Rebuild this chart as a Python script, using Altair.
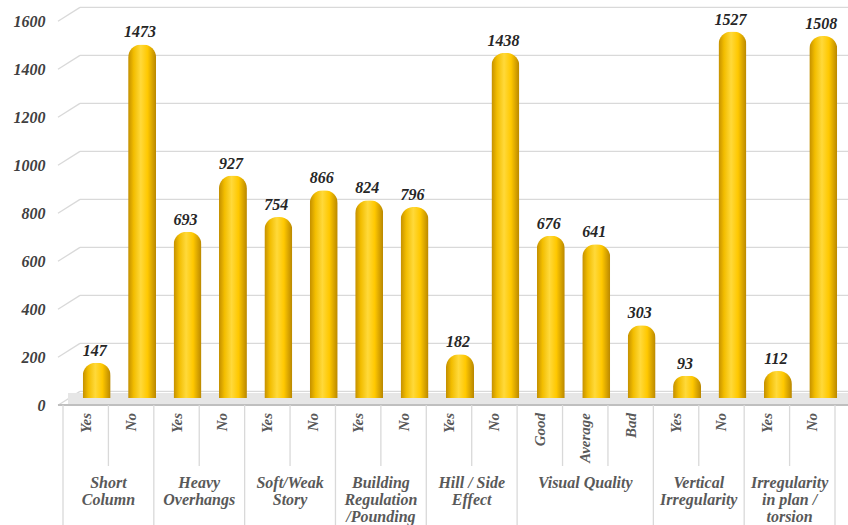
import altair as alt
import pandas as pd

# ---- data ----
sub_labels = ["Yes", "No", "Yes", "No", "Yes", "No", "Yes", "No", "Yes", "No",
              "Good", "Average", "Bad", "Yes", "No", "Yes", "No"]
values = [147, 1473, 693, 927, 754, 866, 824, 796, 182, 1438,
          676, 641, 303, 93, 1527, 112, 1508]
group_names = ["Short\nColumn", "Heavy\nOverhangs", "Soft/Weak\nStory",
               "Building\nRegulation\n/Pounding", "Hill / Side\nEffect",
               "Visual Quality", "Vertical\nIrregularity",
               "Irregularity\nin plan /\ntorsion"]
group_sizes = [2, 2, 2, 2, 2, 3, 2, 2]
y_ticks = [0, 200, 400, 600, 800, 1000, 1200, 1400, 1600]

N = len(values)
bars = pd.DataFrame({"c": [i + 0.5 for i in range(N)], "label": sub_labels, "v": values})

starts = []
s = 0
for n in group_sizes:
    starts.append(s)
    s += n
groups = pd.DataFrame({"c": [st + n / 2 for st, n in zip(starts, group_sizes)],
                       "name": group_names})
group_bounds = pd.DataFrame({"b": starts + [N]})
inner_bounds = pd.DataFrame({"b": [i for i in range(N + 1) if i not in starts + [N]]})
grid = pd.DataFrame({"v": y_ticks})

FONT = "Liberation Serif"
W, H = 782, 384
xs = alt.Scale(domain=[0, N], nice=False, zero=False)
ys = alt.Scale(domain=[0, 1600], nice=False)

y_axis = alt.Axis(
    values=y_ticks, format="d", grid=False, domain=False, ticks=False, labelPadding=13,
    labelOffset=7, labelFont=FONT, labelFontSize=16, labelFontStyle="italic",
    labelFontWeight="bold", labelColor="#404040", title=None)

# back wall gridlines
grid_back = alt.Chart(grid).mark_rule(color="#D9D9D9", strokeWidth=1.3, yOffset=-6.6).encode(
    x=alt.value(22), x2=alt.value(790), y=alt.Y("v:Q", scale=ys, axis=y_axis))
grid_slant = alt.Chart(grid).mark_rule(color="#D9D9D9", strokeWidth=1.3, yOffset=7.3, y2Offset=-6.6).encode(
    x=alt.value(0), x2=alt.value(22), y=alt.Y("v:Q", scale=ys), y2="v:Q")

# floor
floor = alt.Chart(grid).mark_rect(color="#E6E6E6").encode(
    x=alt.value(10), x2=alt.value(790), y=alt.value(379), y2=alt.value(390))
floor_edge = alt.Chart(grid).mark_rule(color="#BFBFBF", strokeWidth=2).encode(
    x=alt.value(0), x2=alt.value(790), y=alt.value(391))

gold = alt.LinearGradient(
    gradient="linear", x1=0, x2=1, y1=0, y2=0,
    stops=[alt.GradientStop(color="#C28E00", offset=0),
           alt.GradientStop(color="#F2BD00", offset=0.2),
           alt.GradientStop(color="#FFD93A", offset=0.45),
           alt.GradientStop(color="#FFC800", offset=0.7),
           alt.GradientStop(color="#B88600", offset=1)])

bar_layer = alt.Chart(bars).mark_bar(
    color=gold, width=28, xOffset=11, cornerRadiusTopLeft=13, cornerRadiusTopRight=13
).encode(
    x=alt.X("c:Q", scale=xs, axis=None),
    y=alt.Y("v:Q", scale=ys),
)

val_text = alt.Chart(bars).mark_text(
    font=FONT, fontSize=16, fontStyle="italic", fontWeight="bold", color="#262626",
    baseline="bottom", dy=-4, xOffset=9
).encode(x=alt.X("c:Q", scale=xs), y=alt.Y("v:Q", scale=ys), text="v:Q")

# table
inner_rules = alt.Chart(inner_bounds).mark_rule(color="#D9D9D9", strokeWidth=1.3).encode(
    x=alt.X("b:Q", scale=xs), y=alt.value(391), y2=alt.value(452))
group_rules = alt.Chart(group_bounds).mark_rule(color="#D9D9D9", strokeWidth=1.3).encode(
    x=alt.X("b:Q", scale=xs), y=alt.value(391), y2=alt.value(511))

sub_text = alt.Chart(bars).mark_text(
    font=FONT, fontSize=15, fontStyle="italic", fontWeight="bold", color="#595959",
    angle=270, align="right", baseline="middle"
).encode(x=alt.X("c:Q", scale=xs), y=alt.value(399), text="label:N")

group_text = alt.Chart(groups).mark_text(
    font=FONT, fontSize=16, fontStyle="italic", fontWeight="bold", color="#595959",
    align="center", baseline="top", lineBreak="\n", lineHeight=17
).encode(x=alt.X("c:Q", scale=xs), y=alt.value(461), text="name:N")

chart = alt.layer(
    grid_back, grid_slant, floor, floor_edge, bar_layer, val_text,
    inner_rules, group_rules, sub_text, group_text
).properties(
    width=W, height=H, autosize="none",
    padding={"left": 58, "top": 14, "right": 8, "bottom": 127},
    background="white"
).configure_view(stroke=None)

chart.save("out.html", embed_options={"renderer": "svg", "actions": False})
